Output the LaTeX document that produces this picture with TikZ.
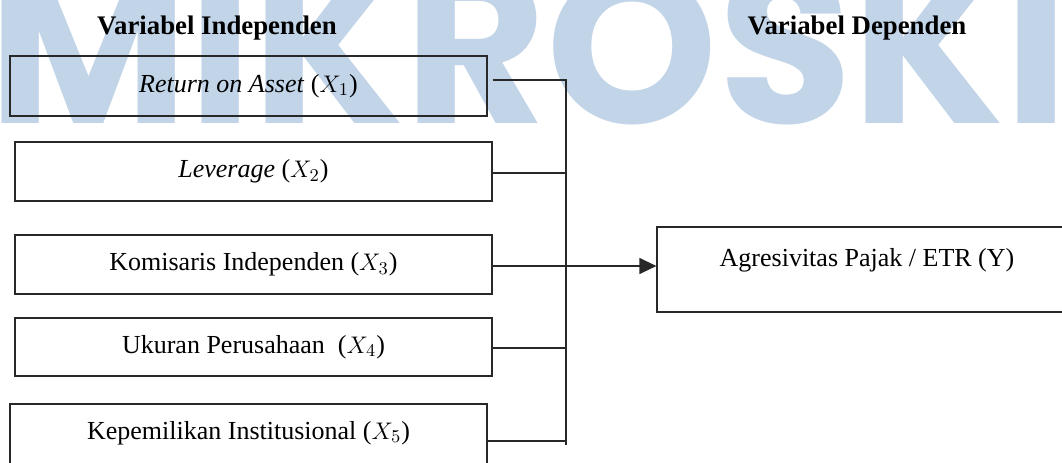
\documentclass[tikz,border=0pt]{standalone}
\usepackage{fontspec}
\setmainfont{Liberation Serif}
\newfontfamily\wmfont{Poppins}
\usepackage{tikz}
\usetikzlibrary{arrows.meta, positioning}
\definecolor{wmblue}{RGB}{194,212,232}
\definecolor{lineclr}{RGB}{40,40,40}

\begin{document}
\begin{tikzpicture}[x=0.5pt, y=-0.5pt]

    \clip (0,0) rectangle (1062,462);

    % Watermark
    \node (wm) [anchor=base west, inner sep=0pt, text=wmblue, font=\wmfont\bfseries\fontsize{109}{109}\selectfont] at (-12,123) {MIKROSKI};

    % Styles
    \tikzset{inbox/.style={draw=lineclr, line width=0.6pt, inner sep=0pt, minimum width=238.5pt, font=\fontsize{13}{15}\selectfont}}
    \tikzset{outbox/.style={draw=lineclr, line width=0.6pt, inner sep=0pt, minimum width=209pt, minimum height=42.5pt}}
    \tikzset{head/.style={font=\bfseries\fontsize{13.4}{16}\selectfont}}
    \tikzset{link/.style={draw=lineclr, line width=0.6pt}}

    % Headings
    \node (hInd) [head] at (217,28) {Variabel Independen};
    \node (hDep) [head] at (857,28) {Variabel Dependen};

    % Independent variables
    \node (x1) [inbox, minimum height=30pt] at (248.5,86) {\textit{Return on Asset} ($X_1$)};
    \node (x2) [inbox, minimum height=29.5pt] at (253.5,171.5) {\textit{Leverage} ($X_2$)};
    \node (x3) [inbox, minimum height=29.5pt] at (253.5,264.5) {Komisaris Independen ($X_3$)};
    \node (x4) [inbox, minimum height=29pt] at (253.5,347) {Ukuran Perusahaan\ \ ($X_4$)};
    \node (x5) [inbox, minimum height=30pt] at (248.5,434) {};
    \node (x5t) [font=\fontsize{13}{15}\selectfont] at (248.5,433) {Kepemilikan Institusional ($X_5$)};

    % Dependent variable
    \node (y) [outbox] at (866,269.5) {};
    \node (yt) [font=\fontsize{13}{15}\selectfont] at (867,260) {Agresivitas Pajak / ETR (Y)};

    % Bus points
    \coordinate (b1) at (566,80);
    \coordinate (b2) at (566,173);
    \coordinate (b3) at (566,266);
    \coordinate (b4) at (566,348);
    \coordinate (b5) at (566,441);
    \coordinate (top) at (566,79);
    \coordinate (bot) at (566,445);

    % Connectors
    \path[link, shorten <=2.5pt] (x1.east |- b1) -- (b1);
    \path[link] (x2.east |- b2) -- (b2);
    \path[link] (x3.east |- b3) -- (b3);
    \path[link] (x4.east |- b4) -- (b4);
    \path[link] (x5.east |- b5) -- (b5);
    \path[link] (top) -- (bot);
    \path[link, -{Triangle[length=8.5pt, width=8pt]}] (b3) -- (b3 -| y.west);

\end{tikzpicture}
\end{document}
